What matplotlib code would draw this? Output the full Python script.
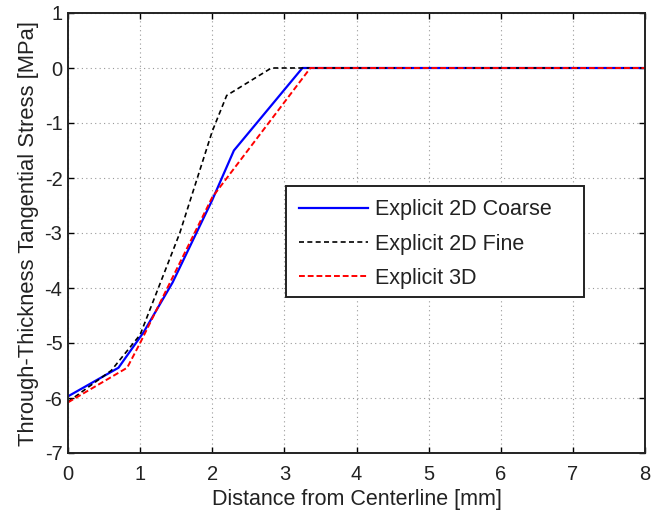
import matplotlib
matplotlib.use("Agg")
import matplotlib.pyplot as plt
from matplotlib.patches import Rectangle

plt.rcParams['font.family'] = ['Liberation Sans', 'DejaVu Sans']
plt.rcParams['axes.unicode_minus'] = False

# Through-thickness tangential stress profiles [MPa] vs distance [mm]
coarse_x = [0.0, 0.7, 1.05, 1.45, 2.0, 2.3, 3.25, 8.0]
coarse_y = [-5.97, -5.45, -4.8, -3.9, -2.4, -1.5, 0.0, 0.0]

fine_x = [0.0, 0.6, 1.0, 1.55, 2.0, 2.2, 2.82, 8.0]
fine_y = [-6.07, -5.5, -4.85, -3.0, -1.15, -0.5, 0.0, 0.0]

solid_x = [0.0, 0.82, 1.0, 2.0, 3.36, 8.0]
solid_y = [-6.08, -5.45, -5.0, -2.35, 0.0, 0.0]

labels = ["Explicit 2D Coarse", "Explicit 2D Fine", "Explicit 3D"]
x_ticks = [0, 1, 2, 3, 4, 5, 6, 7, 8]
y_ticks = [1, 0, -1, -2, -3, -4, -5, -6, -7]

fig = plt.figure(figsize=(6.52, 5.12), dpi=100)
ax = fig.add_axes([68 / 652, 1 - 453 / 512, (645 - 68) / 652, (453 - 13) / 512])

ax.plot(coarse_x, coarse_y, color='#0000ff', lw=1.6, label=labels[0])
ax.plot(fine_x, fine_y, color='black', lw=1.2, ls=(0, (3, 2)), label=labels[1])
ax.plot(solid_x, solid_y, color='#ff0000', lw=1.4, ls=(0, (3, 1.5)), label=labels[2])

ax.set_xlim(0, 8)
ax.set_ylim(-7, 1)
ax.set_xticks(x_ticks)
ax.set_yticks(y_ticks)
ax.tick_params(direction='in', length=4, width=1, labelsize=14.5, pad=4,
               top=True, right=True, labelcolor='#222222')
ax.tick_params(axis='x', pad=9)
ax.grid(True, color='#999999', ls=(0, (1, 3)), lw=0.8)
for s in ax.spines.values():
    s.set_linewidth(1.4)
    s.set_color('#222222')

ax.set_xlabel("Distance from Centerline [mm]", fontsize=15.5, color='#222222', labelpad=3)
ax.set_ylabel("Through-Thickness Tangential Stress [MPa]", fontsize=15.8,
              color='#222222', labelpad=4)

# legend box spans a wider area than its entries, framed separately (axes fractions)
box_x0, box_x1 = 0.3775, 0.894
box_y0, box_y1 = 0.355, 0.606
ax.add_patch(Rectangle((box_x0, box_y0), box_x1 - box_x0, box_y1 - box_y0,
                       transform=ax.transAxes, facecolor='white',
                       edgecolor='#222222', lw=1.4, zorder=4))
leg = ax.legend(loc='upper left', bbox_to_anchor=(box_x0, box_y1),
                fontsize=15.5, frameon=False,
                handlelength=3.2, borderpad=0.6, labelspacing=0.62, handletextpad=0.35,
                borderaxespad=0)
leg.set_zorder(5)
for t in leg.get_texts():
    t.set_color('#222222')

fig.savefig("out.png", dpi=100)
